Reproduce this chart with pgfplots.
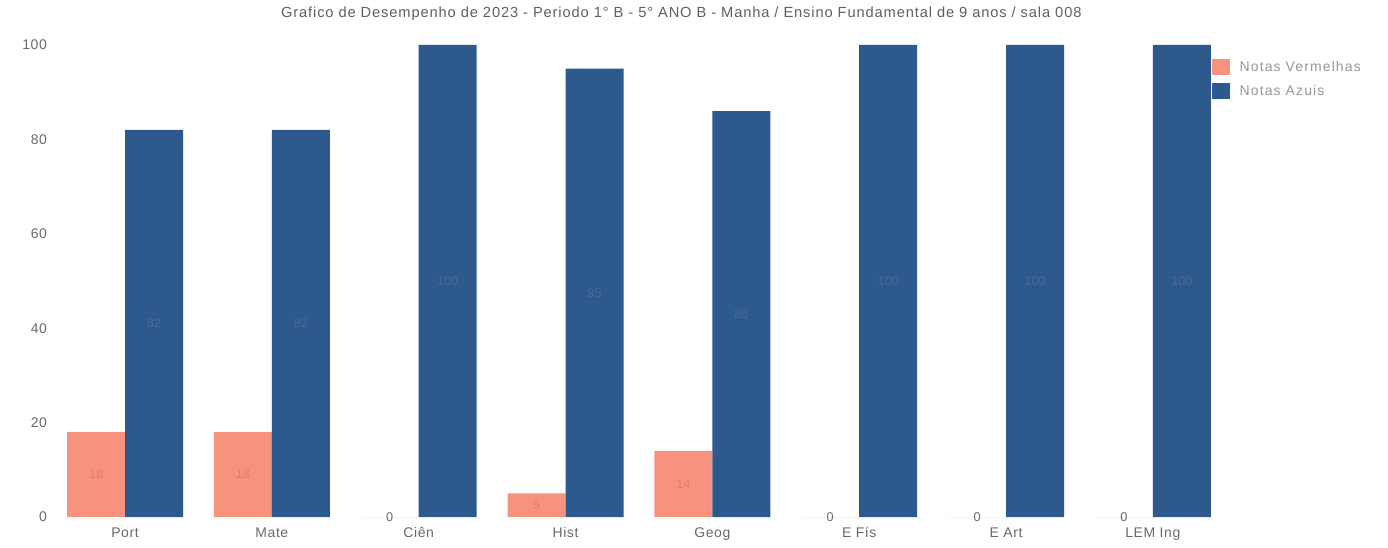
\documentclass[border=0pt]{standalone}
\usepackage{pgfplots}
\pgfplotsset{compat=1.18}
\usepackage{fontspec}
\setmainfont{Liberation Sans}
\definecolor{notaverm}{RGB}{246,146,126}
\definecolor{notaazul}{RGB}{46,89,140}
\definecolor{vermlbl}{RGB}{226,126,106}
\definecolor{azullbl}{RGB}{72,106,152}
\definecolor{titlegray}{RGB}{95,95,95}
\definecolor{tickgray}{RGB}{105,105,105}
\definecolor{leggray}{RGB}{150,150,150}

\begin{document}
\begin{tikzpicture}
\useasboundingbox (0,0) rectangle (1041pt,410.25pt);
\node[font=\fontsize{11}{12}\selectfont\addfontfeature{LetterSpace=6}, text=titlegray] at (511pt,400pt)
  {Grafico de Desempenho de 2023 - Periodo 1° B - 5° ANO B - Manha / Ensino Fundamental de 9 anos / sala 008};
\begin{axis}[
    at={(38.7pt,22.5pt)}, anchor=south west,
    scale only axis, width=881pt, height=354pt,
    ybar=0pt, bar width=43.5pt,
    xmin=-0.5, xmax=7.5, ymin=0, ymax=100,
    xtick={0,...,7},
    xticklabels={Port,Mate,Ciên,Hist,Geog,E Fís,E Art,LEM Ing},
    ytick={0,20,...,100},
    axis x line*=bottom, axis y line*=left,
    axis line style={draw=none}, major tick style={draw=none},
    tick label style={font=\fontsize{10.5}{12}\selectfont\addfontfeature{LetterSpace=4}, text=tickgray},
    /pgf/number format/assume math mode=true,
    visualization depends on=y \as \rawy,
    every node near coord/.append style={anchor=center,
        shift={(axis direction cs:0,-\rawy/2)}, font=\fontsize{9.5}{11}\selectfont},
    legend style={at={(0.9845,0.978)}, anchor=north west, draw=none, fill=none,
        font=\fontsize{10.5}{12}\selectfont\addfontfeature{LetterSpace=8}, text=leggray, row sep=5pt,
        cells={anchor=west}},
    legend image code/.code={\fill[#1] (0pt,-6.2pt) rectangle (13.5pt,6.2pt);},
]
\addplot[fill=notaverm, draw=none,
    nodes near coords={\ifdim\rawy pt<0.5pt\textcolor{tickgray}{0}\else\textcolor{vermlbl}{\pgfmathprintnumber{\rawy}}\fi}]
    coordinates {(0,18) (1,18) (2,0) (3,5) (4,14) (5,0) (6,0) (7,0)};
\addlegendentry{\hspace{5pt}Notas Vermelhas}
\addplot[fill=notaazul, draw=none,
    nodes near coords={\textcolor{azullbl}{\pgfmathprintnumber{\rawy}}}]
    coordinates {(0,82) (1,82) (2,100) (3,95) (4,86) (5,100) (6,100) (7,100)};
\addlegendentry{\hspace{5pt}Notas Azuis}
\end{axis}
\end{tikzpicture}
\end{document}
